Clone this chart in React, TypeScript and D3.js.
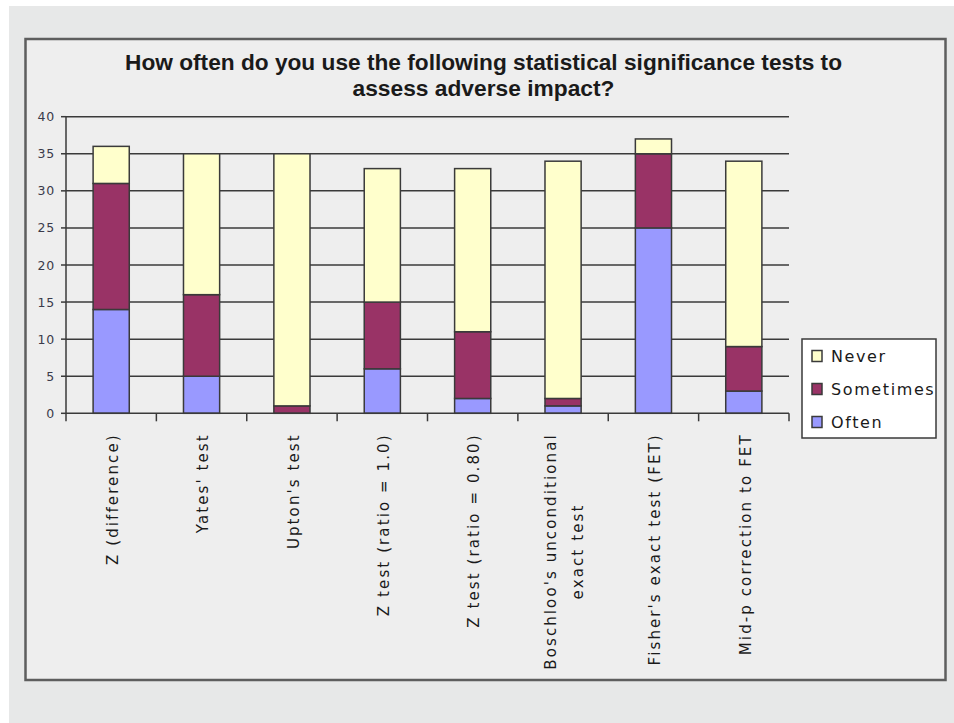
import React, { useEffect, useRef } from 'react';
import * as d3 from 'd3';

// categories, each as the lines it is written on
const categories: string[][] = [
  ["Z (difference)"],
  ["Yates' test"],
  ["Upton's test"],
  ["Z test (ratio = 1.0)"],
  ["Z test (ratio = 0.80)"],
  ["Boschloo's unconditional", "exact test"],
  ["Fisher's exact test (FET)"],
  ["Mid-p correction to FET"],
];

const often = [14, 5, 0, 6, 2, 1, 25, 3];
const sometimes = [17, 11, 1, 9, 9, 1, 10, 6];
const never = [5, 19, 34, 18, 22, 32, 2, 25];

const seriesNames = ["Often", "Sometimes", "Never"];
const seriesColors = ["#9999ff", "#993366", "#ffffcc"];

const yTicks = [0, 5, 10, 15, 20, 25, 30, 35, 40];
const titleLines = [
  "How often do you use the following statistical significance tests to",
  "assess adverse impact?",
];

const App: React.FC = () => {
  const svgRef = useRef<SVGSVGElement>(null);

  useEffect(() => {
    if (!svgRef.current) return;
    const width = 954;
    const height = 723;
    const svg = d3.select(svgRef.current);
    svg.selectAll("*").remove();

    // page + chart frame
    svg.append("rect").attr("width", width).attr("height", height).attr("fill", "#ffffff");
    svg.append("rect").attr("x", 9).attr("y", 6).attr("width", width - 9).attr("height", height - 6).attr("fill", "#e7e8e8");
    svg.append("rect")
      .attr("x", 25.5).attr("y", 39).attr("width", 920).attr("height", 641)
      .attr("fill", "#eeeeee").attr("stroke", "#5e5e5e").attr("stroke-width", 2.5);

    // title (condensed bold in the original, so squeeze to width)
    const titleWidths = [717, 262];
    titleLines.forEach((t, i) => {
      svg.append("text")
        .attr("x", 483.5)
        .attr("y", 70 + i * 26)
        .attr("text-anchor", "middle")
        .attr("font-family", "Liberation Sans, Arial, sans-serif")
        .attr("font-weight", "bold")
        .attr("font-size", 21.5)
        .attr("fill", "#1a1a1a")
        .attr("textLength", titleWidths[i])
        .attr("lengthAdjust", "spacingAndGlyphs")
        .text(t);
    });

    const x0 = 66, x1 = 789, yTop = 116.7, yBottom = 413.3;

    const x = d3.scaleBand<number>()
      .domain(d3.range(categories.length))
      .range([x0, x1])
      .paddingInner(0.6)
      .paddingOuter(0.3);

    const y = d3.scaleLinear().domain([0, 40]).range([yBottom, yTop]);

    const g = svg.append("g");

    // gridlines
    g.selectAll("line.grid")
      .data(yTicks.filter(d => d > 0))
      .join("line")
      .attr("x1", x0).attr("x2", x1)
      .attr("y1", d => y(d)).attr("y2", d => y(d))
      .attr("stroke", "#3a3a3a").attr("stroke-width", 1.5);

    // y axis
    g.append("line").attr("x1", x0).attr("x2", x0).attr("y1", yTop).attr("y2", yBottom)
      .attr("stroke", "#3a3a3a").attr("stroke-width", 1.5);
    g.selectAll("line.ytick")
      .data(yTicks)
      .join("line")
      .attr("x1", x0 - 5).attr("x2", x0)
      .attr("y1", d => y(d)).attr("y2", d => y(d))
      .attr("stroke", "#3a3a3a").attr("stroke-width", 1.5);
    g.selectAll("text.ylab")
      .data(yTicks)
      .join("text")
      .attr("x", 55)
      .attr("y", d => y(d))
      .attr("dy", "0.36em")
      .attr("text-anchor", "end")
      .attr("font-family", "DejaVu Sans, Verdana, sans-serif")
      .attr("font-size", 12.5)
      .attr("letter-spacing", 0.8)
      .attr("fill", "#3a3a4a")
      .text(d => d);

    // stacked bars
    const rows = categories.map((_, i) => ({ Often: often[i], Sometimes: sometimes[i], Never: never[i], i }));
    const stack = d3.stack<any>().keys(seriesNames)(rows);
    stack.forEach((layer, si) => {
      g.selectAll(null)
        .data(layer)
        .join("rect")
        .filter(d => d[1] - d[0] > 0)
        .attr("x", (d: any) => x(d.data.i) as number)
        .attr("width", x.bandwidth())
        .attr("y", d => y(d[1]))
        .attr("height", d => y(d[0]) - y(d[1]))
        .attr("fill", seriesColors[si])
        .attr("stroke", "#3a3a3a")
        .attr("stroke-width", 1.5);
    });

    // x axis
    g.append("line").attr("x1", x0).attr("x2", x1).attr("y1", yBottom).attr("y2", yBottom)
      .attr("stroke", "#3a3a3a").attr("stroke-width", 1.5);
    g.selectAll("line.xtick")
      .data(d3.range(categories.length + 1))
      .join("line")
      .attr("x1", d => x0 + d * (x1 - x0) / categories.length)
      .attr("x2", d => x0 + d * (x1 - x0) / categories.length)
      .attr("y1", yBottom).attr("y2", yBottom + 8)
      .attr("stroke", "#3a3a3a").attr("stroke-width", 1.5);

    categories.forEach((lines, i) => {
      const cx = (x(i) as number) + x.bandwidth() / 2 + 1.5;
      const lg = g.append("g").attr("transform", `translate(${cx},${yBottom + 20}) rotate(-90)`);
      const texts = lines.map((line, li) =>
        lg.append("text")
          .attr("dy", `${0.35 + (li - (lines.length - 1) / 2) * 1.8}em`)
          .attr("font-family", "DejaVu Sans, Verdana, sans-serif")
          .attr("font-size", 15)
          .attr("letter-spacing", 2.1)
          .attr("fill", "#1a1a1a")
          .text(line)
      );
      const lens = texts.map(t => (t.node() as SVGTextElement).getComputedTextLength());
      const maxLen = d3.max(lens) || 0;
      texts.forEach(t => {
        if (lines.length === 1) t.attr("text-anchor", "end").attr("x", 0);
        else t.attr("text-anchor", "middle").attr("x", -maxLen / 2);
      });
    });

    // legend
    const lx = 802, ly = 339;
    svg.append("rect").attr("x", lx).attr("y", ly).attr("width", 134).attr("height", 99)
      .attr("fill", "#ffffff").attr("stroke", "#3a3a3a").attr("stroke-width", 1.5);
    const legendOrder = [2, 1, 0];
    legendOrder.forEach((si, k) => {
      const ry = ly + 17 + k * 33;
      svg.append("rect").attr("x", lx + 10).attr("y", ry - 5.5).attr("width", 10).attr("height", 11)
        .attr("fill", seriesColors[si]).attr("stroke", "#3a3a3a").attr("stroke-width", 1.5);
      svg.append("text")
        .attr("x", lx + 29).attr("y", ry).attr("dy", "0.37em")
        .attr("font-family", "DejaVu Sans, Verdana, sans-serif")
        .attr("font-size", 16)
        .attr("letter-spacing", 1.6)
        .attr("fill", "#1a1a1a")
        .text(seriesNames[si]);
    });
  }, []);

  return (
    <svg ref={svgRef} width={954} height={723}
      style={{ position: 'absolute', left: 0, top: 0, display: 'block' }} />
  );
};

export default App;
